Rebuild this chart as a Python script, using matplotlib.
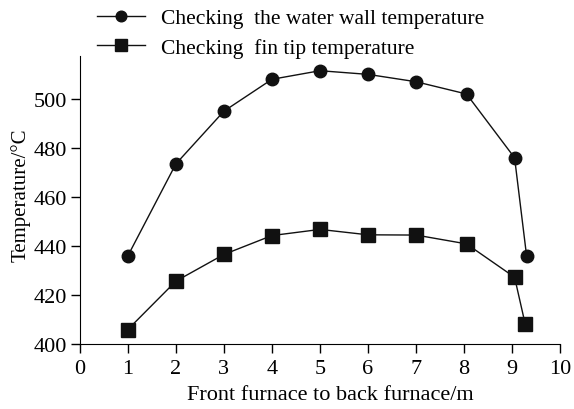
import matplotlib.pyplot as plt

plt.rcParams['font.family'] = ['Liberation Serif', 'DejaVu Serif']

# data
x_wall = [1, 2, 3, 4, 5, 6, 7, 8.05, 9.05, 9.3]
t_wall = [436, 473.5, 495, 508, 511.5, 510, 507, 502, 476, 436]
x_fin = [1, 2, 3, 4, 5, 6, 7, 8.05, 9.05, 9.27]
t_fin = [406, 425.7, 436.6, 444.3, 446.8, 444.6, 444.5, 440.9, 427.3, 408.3]
xticks = list(range(0, 11))
yticks = [400, 420, 440, 460, 480, 500]

fig = plt.figure(figsize=(5.74, 4.10), dpi=100)
ax = fig.add_axes([0.139, 0.158, 0.837, 0.703])

ax.plot(x_wall, t_wall, color='#111111', lw=1, marker='o', ms=9,
        label='Checking  the water wall temperature')
ax.plot(x_fin, t_fin, color='#111111', lw=1, marker='s', ms=9.5,
        label='Checking  fin tip temperature')

ax.set_xlim(0, 10)
ax.set_ylim(400, 517.5)
ax.set_xticks(xticks)
ax.set_yticks(yticks)
ax.tick_params(labelsize=16, length=6.5, width=1, direction='out', pad=3)
ax.tick_params(axis='x', pad=4)
ax.spines['top'].set_visible(False)
ax.spines['right'].set_visible(False)
ax.set_xlabel('Front furnace to back furnace/m', fontsize=16)
ax.xaxis.set_label_coords(0.521, -0.14)
ax.set_ylabel('Temperature/°C', fontsize=15)
ax.yaxis.set_label_coords(-0.102, 0.52)

fig.legend(loc='upper left', bbox_to_anchor=(0.135, 1.025), frameon=False,
           fontsize=15.5, handlelength=2.25, handletextpad=0.75,
           labelspacing=0.45, markerscale=0.85)

fig.savefig('out.png', dpi=100)
